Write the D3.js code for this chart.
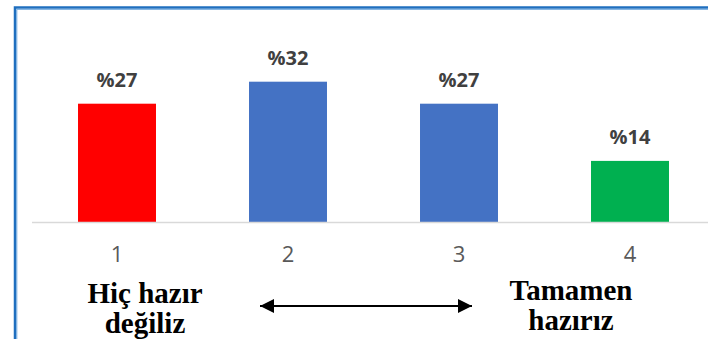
<!DOCTYPE html>
<html>
<head>
<meta charset="utf-8">
<style>
  body { margin: 0; background: #fff; }
  svg { display: block; }
  .axis path, .axis line { display: none; }
  .axis text { font-family: "Open Sans", sans-serif; font-size: 22px; fill: #595959; }
  .lbl { font-family: "Open Sans", sans-serif; font-size: 20px; font-weight: bold; fill: #404040; }
  .end { font-family: "Liberation Serif", serif; font-size: 29px; font-weight: bold; fill: #000; }
</style>
</head>
<body>
<div id="chart"></div>
<script src="https://d3js.org/d3.v7.min.js"></script>
<script>
// data
var categories = ["1", "2", "3", "4"];
var values = [27, 32, 27, 14];
var valueLabels = ["%27", "%32", "%27", "%14"];
var barColors = ["#ff0000", "#4472c4", "#4472c4", "#00b050"];
var leftText = ["Hiç hazır", "değiliz"];
var rightText = ["Tamamen", "hazırız"];

var width = 708,
    height = 339,
    base = 222.5;

var svg = d3.select("#chart").append("svg")
    .attr("width", width)
    .attr("height", height);

var defs = svg.append("defs");
["arrowEnd", "arrowStart"].forEach(function(id, i) {
  defs.append("marker")
      .attr("id", id)
      .attr("viewBox", "0 0 10 10")
      .attr("refX", i == 0 ? 10 : 0).attr("refY", 5)
      .attr("markerWidth", 7).attr("markerHeight", 8)
      .attr("markerUnits", "strokeWidth")
      .attr("orient", "auto")
    .append("path")
      .attr("d", i == 0 ? "M0,0L10,5L0,10Z" : "M10,0L0,5L10,10Z")
      .attr("fill", "#000");
});

// frame (only top and left edges are in view)
svg.append("rect")
    .attr("x", 15).attr("y", 7.5)
    .attr("width", 720).attr("height", 360)
    .attr("fill", "none")
    .attr("stroke", "#1f6fbf")
    .attr("stroke-width", 2.5);
svg.append("path")
    .attr("d", "M16.8," + (height + 5) + "V9.3H" + (width + 5))
    .attr("fill", "none")
    .attr("stroke", "#6aa6de")
    .attr("stroke-width", 1);

var x = d3.scaleBand()
    .domain(categories)
    .range([31.5, 715.5])
    .paddingInner(0.544)
    .paddingOuter(0.272);

var y = d3.scaleLinear()
    .domain([0, 35])
    .range([base, base - 35 * 4.4]);

svg.selectAll(".bar")
    .data(values)
  .enter().append("rect")
    .attr("class", "bar")
    .attr("x", function(d, i) { return x(categories[i]); })
    .attr("y", function(d) { return y(d); })
    .attr("width", x.bandwidth())
    .attr("height", function(d) { return y(0) - y(d); })
    .attr("fill", function(d, i) { return barColors[i]; });

// baseline
svg.append("line")
    .attr("x1", 32).attr("x2", width)
    .attr("y1", y(0)).attr("y2", y(0))
    .attr("stroke", "#d9d9d9")
    .attr("stroke-width", 1.5);

svg.append("g")
    .attr("class", "axis")
    .attr("transform", "translate(0," + y(0) + ")")
    .call(d3.axisBottom(x).tickSize(0).tickPadding(24));

svg.selectAll(".lbl")
    .data(values)
  .enter().append("text")
    .attr("class", "lbl")
    .attr("x", function(d, i) { return x(categories[i]) + x.bandwidth() / 2; })
    .attr("y", function(d) { return y(d) - 17; })
    .attr("text-anchor", "middle")
    .text(function(d, i) { return valueLabels[i]; });

function block(lines, cx, yy) {
  svg.append("text")
      .attr("class", "end")
      .attr("text-anchor", "middle")
    .selectAll("tspan")
      .data(lines)
    .enter().append("tspan")
      .attr("x", cx)
      .attr("y", function(d, i) { return yy + i * 30; })
      .text(function(d) { return d; });
}
block(leftText, 145, 303);
block(rightText, 571, 299.5);

svg.append("line")
    .attr("x1", 260).attr("x2", 472)
    .attr("y1", 306).attr("y2", 306)
    .attr("stroke", "#000")
    .attr("stroke-width", 2)
    .attr("marker-start", "url(#arrowStart)")
    .attr("marker-end", "url(#arrowEnd)");
</script>
</body>
</html>
